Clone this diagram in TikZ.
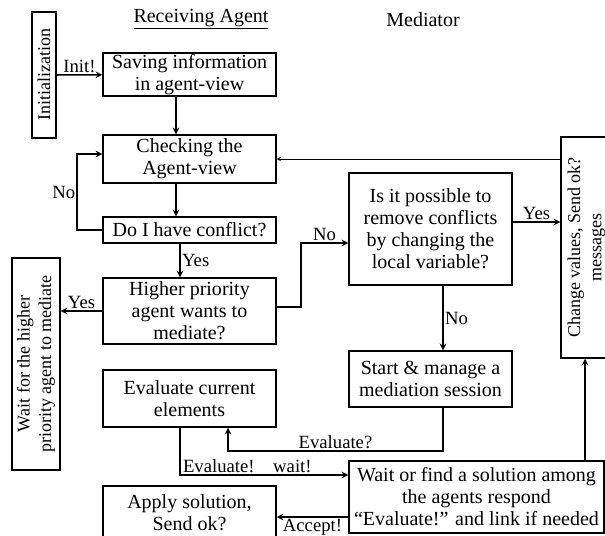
\documentclass[tikz,border=0pt]{standalone}
\usepackage{fontspec}
\setmainfont{Liberation Serif}
\begin{document}
\begin{tikzpicture}[>=stealth, x=0.75pt, y=-0.75pt,
box/.style={draw, line width=1.1pt, align=center, inner sep=0.5pt, font=\fontsize{15}{16.5}\selectfont},
vbox/.style={box, rotate=90, font=\fontsize{13.5}{16}\selectfont},
lbl/.style={inner sep=1pt, font=\fontsize{14}{16}\selectfont},
flow/.style={->, line width=1.2pt}]
\useasboundingbox (0,0) rectangle (605,535);
\clip (0,0) rectangle (605,535);
\node (hrecv) at (201,19)[lbl, font=\fontsize{15}{16}\selectfont]{\underline{Receiving Agent}};
\node (hmed) at (423,20)[lbl, font=\fontsize{15}{16}\selectfont]{Mediator};
\node (init) at (44,75)[vbox, minimum width=94.5pt, minimum height=18pt]{Initialization};
\node (save) at (189.5,74.5)[box, minimum width=129.75pt, minimum height=32.25pt]{Saving information\\in agent-view};
\node (check) at (189.5,159)[box, minimum width=129.75pt, minimum height=36pt]{Checking the\\Agent-view};
\node (conflict) at (189.5,230)[box, minimum width=129.75pt, minimum height=19.5pt]{Do I have conflict?};
\node (priority) at (189.5,311)[box, minimum width=129.75pt, minimum height=49.5pt]{Higher priority\\agent wants to\\mediate?};
\node (waithigh) at (36,364)[vbox, minimum width=159pt, minimum height=36pt]{Wait for the higher\\priority agent to mediate};
\node (possible) at (430.5,229)[box, minimum width=122.25pt, minimum height=84pt]{Is it possible to\\remove conflicts\\by changing the\\local variable?};
\node (change) at (586.5,247.5)[vbox, minimum width=165.75pt, minimum height=38.25pt]{Change values, Send ok?\\messages};
\node (start) at (430.5,379)[box, minimum width=122.25pt, minimum height=42pt]{Start \& manage a\\mediation session};
\node (evalbox) at (189.5,398.5)[box, minimum width=129.75pt, minimum height=42.75pt]{Evaluate current\\elements};
\node (waitfind) at (476.5,497)[box, minimum width=191.25pt, minimum height=54pt]{Wait or find a solution among\\the agents respond\\``Evaluate!'' and link if needed};
\node (apply) at (189.5,513)[box, minimum width=129.75pt, minimum height=40.5pt]{Apply solution,\\Send ok?};
\coordinate (colA) at (176,0);
\coordinate (colB) at (180,0);
\coordinate (colE) at (228,0);
\coordinate (colM) at (443,0);
\coordinate (colR) at (585,0);
\draw[flow] (init) -- node[lbl, above]{Init!} (save);
\draw[flow] (save.south -| colA) -- (check.north -| colA);
\draw[flow] (check.south -| colA) -- (conflict.north -| colA);
\draw[flow] (conflict.south -| colB) -- node[lbl, right]{Yes} (priority.north -| colB);
\draw[flow] (conflict.west) -- ++(-25,0) |- node[lbl, left, pos=0.25]{No} ([yshift=3.75pt]check.west);
\draw[flow] (priority.west) -- node[lbl, above]{Yes} (priority.west -| waithigh.south);
\draw[flow] ([yshift=3pt]priority.east) -- ++(24,0) |- node[lbl, above, pos=0.75]{No} ([yshift=-10.5pt]possible.west);
\draw[flow] ([yshift=5.25pt]possible.east) -- node[lbl, above]{Yes} ([yshift=5.25pt]possible.east -| change.north);
\draw[flow] (possible.south -| colM) -- node[lbl, right]{No} (start.north -| colM);
\draw[flow] (start.south -| colM) -- ++(0,43) -| node[lbl, above, pos=0.25]{Evaluate?} (evalbox.south -| colE);
\draw[flow] (evalbox.south -| colB) |- node[lbl, above, pos=0.7]{Evaluate!\quad wait!} ([yshift=16.5pt]waitfind.west);
\draw[flow] ([yshift=-15pt]waitfind.west) -- node[lbl, below]{Accept!} ([yshift=-15pt]waitfind.west -| apply.east);
\draw[flow] (waitfind.north -| colR) -- (change.west -| colR);
\draw[->, thin] (change.north |- check.east) -- (check.east);
\end{tikzpicture}
\end{document}
